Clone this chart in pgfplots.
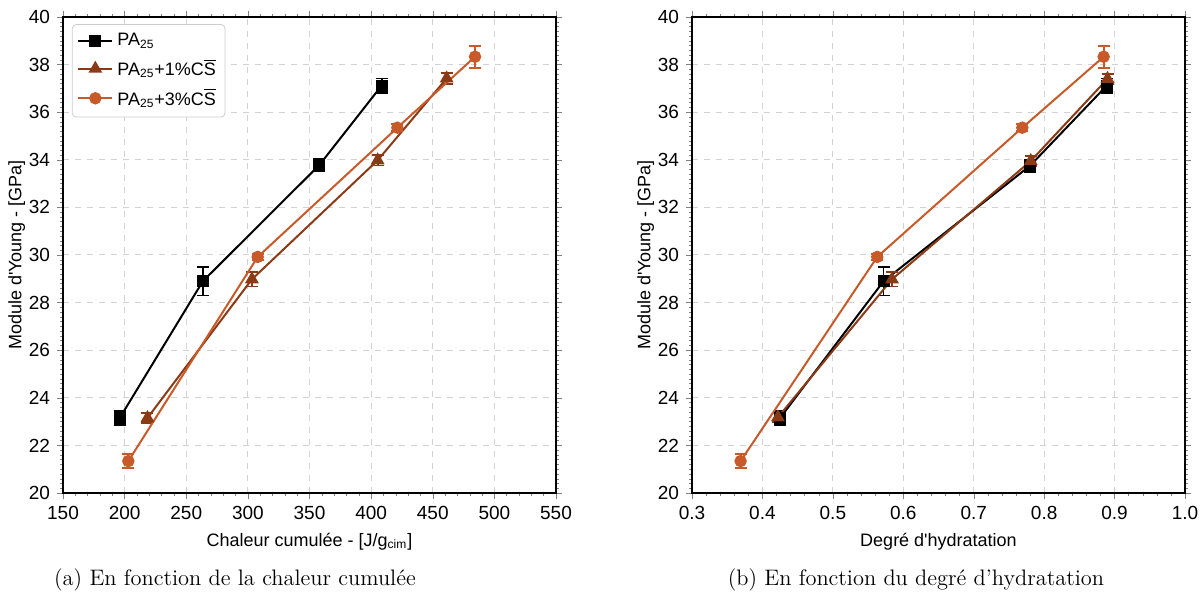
\documentclass[border=0pt]{standalone}
\usepackage{pgfplots}
\pgfplotsset{compat=1.18}
\usepackage{fontspec}
\newfontfamily\arial{Liberation Sans}
\definecolor{cblack}{HTML}{000000}
\definecolor{cbrown}{HTML}{8B3A16}
\definecolor{corange}{HTML}{C85A2A}
\pgfplotsset{
  myaxis/.style={
    scale only axis, width=246.5pt, height=238pt,
    ymin=20, ymax=40, ytick={20,22,...,40},
    minor y tick num=9,
    tick align=outside,
    major tick length=3pt, minor tick length=1.5pt,
    grid=major,
    major grid style={dashed, gray!35, line width=0.5pt},
    axis line style={line width=0.6pt},
    /pgf/number format/assume math mode=true,
    tick label style={font=\arial\fontsize{9.5}{11}\selectfont},
    label style={font=\arial\fontsize{9}{11}\selectfont},
    ylabel={Module d'Young - [GPa]},
    ylabel style={yshift=-5pt},
    error bars/y dir=both, error bars/y explicit,
    error bars/error mark options={rotate=90, mark size=3pt, line width=0.9pt},
    error bars/error bar style={line width=0.9pt},
  },
  s1/.style={cblack, line width=1pt, mark=square*, mark size=2.5pt, mark options={solid}},
  s2/.style={cbrown, line width=1pt, mark=triangle*, mark size=3pt, mark options={solid}},
  s3/.style={corange, line width=1pt, mark=*, mark size=2.6pt, mark options={solid}},
}
\begin{document}
\begin{tikzpicture}
\path[use as bounding box] (0,0) rectangle (600pt,299.5pt);
\begin{axis}[myaxis, at={(31.5pt,53pt)}, anchor=south west,
  xmin=150, xmax=550, xtick={150,200,...,550}, minor x tick num=4,
  xlabel={Chaleur cumulée - [J/g\textsubscript{cim}]},
  legend style={font=\arial\fontsize{9}{11}\selectfont, draw=gray!40, rounded corners=2pt,
    row sep=1pt, inner sep=2.5pt, at={(0.018,0.985)}, anchor=north west},
  legend cell align=left,
]
\addplot[s1] coordinates {(196,23.15) +- (0,0.3) (263.5,28.9) +- (0,0.6) (358,33.78) +- (0,0.25) (408.6,37.12) +- (0,0.3)};
\addlegendentry{PA\textsubscript{25}}
\addplot[s2] coordinates {(218.5,23.15) +- (0,0.2) (303.3,28.98) +- (0,0.3) (405.3,33.98) +- (0,0.22) (461.3,37.42) +- (0,0.22)};
\addlegendentry{PA\textsubscript{25}+1\%C$\overline{\mbox{S}}$}
\addplot[s3] coordinates {(203,21.34) +- (0,0.3) (308,29.92) +- (0,0.13) (421.3,35.35) +- (0,0.15) (484.3,38.33) +- (0,0.46)};
\addlegendentry{PA\textsubscript{25}+3\%C$\overline{\mbox{S}}$}
\end{axis}
\begin{axis}[myaxis, at={(346pt,53pt)}, anchor=south west,
  xmin=0.3, xmax=1.0, xtick={0.3,0.4,...,1.0}, minor x tick num=4,
  xticklabel style={/pgf/number format/.cd, fixed, fixed zerofill, precision=1},
  xlabel={Degré d'hydratation},
]
\addplot[s1] coordinates {(0.425,23.15) +- (0,0.3) (0.572,28.9) +- (0,0.6) (0.78,33.75) +- (0,0.25) (0.889,37.12) +- (0,0.3)};
\addplot[s2] coordinates {(0.422,23.18) +- (0,0.2) (0.584,28.98) +- (0,0.3) (0.781,33.95) +- (0,0.22) (0.890,37.4) +- (0,0.22)};
\addplot[s3] coordinates {(0.369,21.34) +- (0,0.3) (0.563,29.92) +- (0,0.13) (0.769,35.35) +- (0,0.15) (0.8845,38.33) +- (0,0.46)};
\end{axis}
\node[font=\fontsize{11.2}{13}\selectfont] at (117.5pt,9.5pt) {(a) En fonction de la chaleur cumulée};
\node[font=\fontsize{11.2}{13}\selectfont] at (458pt,9.5pt) {(b) En fonction du degré d'hydratation};
\end{tikzpicture}
\end{document}
